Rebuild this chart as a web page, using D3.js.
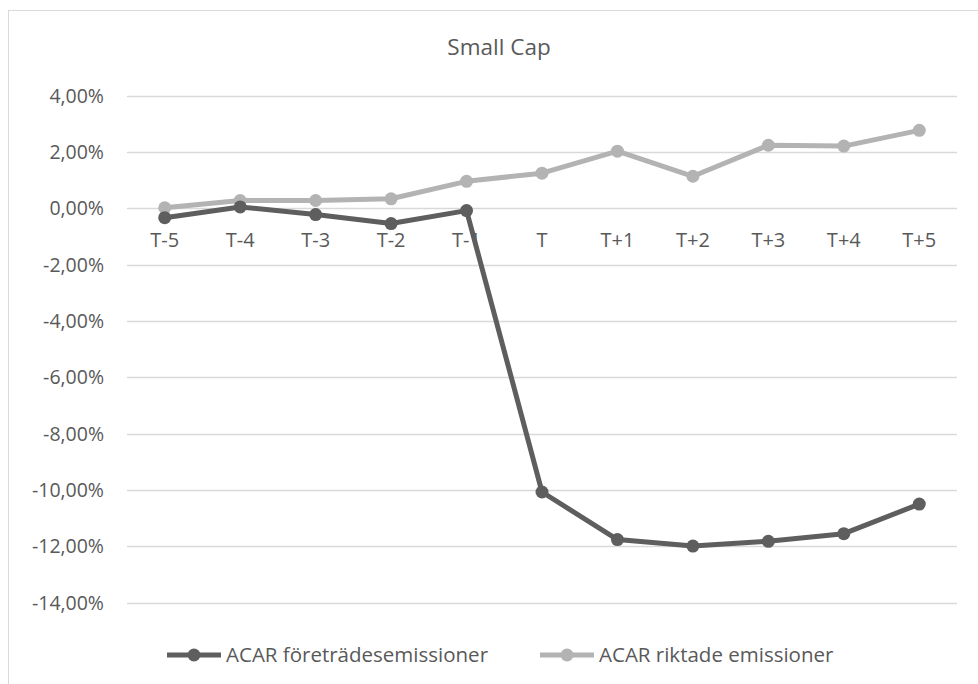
<!DOCTYPE html>
<html>
<head>
<meta charset="utf-8">
<script src="https://cdn.jsdelivr.net/npm/d3@7"></script>
<style>
  body { margin: 0; background: #fff; }
  svg text { font-family: "Open Sans", sans-serif; fill: #595959; }
</style>
</head>
<body>
<div id="chart"></div>
<script>
// Data (percent values)
let periods = ["T-5", "T-4", "T-3", "T-2", "T-1", "T", "T+1", "T+2", "T+3", "T+4", "T+5"];
let foretrade = [-0.33, 0.05, -0.22, -0.54, -0.08, -10.07, -11.76, -11.99, -11.82, -11.55, -10.50];
let riktade = [0.02, 0.28, 0.28, 0.34, 0.96, 1.25, 2.03, 1.14, 2.24, 2.21, 2.77];
let yTicks = [4, 2, 0, -2, -4, -6, -8, -10, -12, -14];

let seriesNames = ["ACAR företrädesemissioner", "ACAR riktade emissioner"];
let seriesColors = ["#5e5e5e", "#b3b3b3"];

let width = 978;
let height = 684;

let svg = d3.select("#chart")
    .append("svg")
    .attr("width", width)
    .attr("height", height);

// chart frame (runs off the right and bottom edge like the original)
svg.append("rect")
    .attr("x", 8.5)
    .attr("y", 10.5)
    .attr("width", 1000)
    .attr("height", 1000)
    .style("fill", "none")
    .style("stroke", "#d9d9d9");

let xScale = d3.scalePoint()
    .domain(periods)
    .range([127, 957])
    .padding(0.5);

let yScale = d3.scaleLinear()
    .domain([-14, 4])
    .range([602.7, 95.7]);

// gridlines
svg.selectAll(".grid")
    .data(yTicks)
    .enter()
    .append("line")
    .attr("x1", 127)
    .attr("x2", 957)
    .attr("y1", function (d) { return Math.round(yScale(d)) + 0.5; })
    .attr("y2", function (d) { return Math.round(yScale(d)) + 0.5; })
    .style("stroke", "#d9d9d9")
    .style("stroke-width", 1.5);

// y axis labels
let fmt = function (d) { return d3.format(".2f")(d).replace(".", ",").replace("−", "-") + "%"; };
svg.selectAll(".ylab")
    .data(yTicks)
    .enter()
    .append("text")
    .attr("x", 104)
    .attr("y", function (d) { return yScale(d); })
    .attr("dy", "0.35em")
    .attr("text-anchor", "end")
    .style("font-size", "19.5px")
    .text(fmt);

// category labels sit just below the zero line
svg.selectAll(".xlab")
    .data(periods)
    .enter()
    .append("text")
    .attr("x", function (d) { return xScale(d); })
    .attr("y", yScale(0) + 32)
    .attr("dy", "0.35em")
    .attr("text-anchor", "middle")
    .style("font-size", "20px")
    .text(function (d) { return d; });

// title
svg.append("text")
    .attr("x", 499)
    .attr("y", 47)
    .attr("dy", "0.35em")
    .attr("text-anchor", "middle")
    .style("font-size", "22.5px")
    .text("Small Cap");

let drawSeries = function (values, color) {
    let pts = periods.map(function (p, i) { return { p: p, v: values[i] }; });
    let line = d3.line()
        .x(function (d) { return xScale(d.p); })
        .y(function (d) { return yScale(d.v); });
    svg.append("path")
        .datum(pts)
        .attr("d", line)
        .style("fill", "none")
        .style("stroke", color)
        .style("stroke-width", 5)
        .style("stroke-linejoin", "round");
    svg.selectAll(null)
        .data(pts)
        .enter()
        .append("circle")
        .attr("cx", function (d) { return xScale(d.p); })
        .attr("cy", function (d) { return yScale(d.v); })
        .attr("r", 6.5)
        .style("fill", color);
};

drawSeries(riktade, seriesColors[1]);
drawSeries(foretrade, seriesColors[0]);

// legend
let legendX = [167, 540];
let legendY = 655;
seriesNames.forEach(function (name, i) {
    let g = svg.append("g").attr("transform", "translate(" + legendX[i] + "," + legendY + ")");
    g.append("line")
        .attr("x1", 0).attr("x2", 54)
        .style("stroke", seriesColors[i])
        .style("stroke-width", 5);
    g.append("circle")
        .attr("cx", 27)
        .attr("r", 6.5)
        .style("fill", seriesColors[i]);
    g.append("text")
        .attr("x", 59)
        .attr("dy", "0.35em")
        .style("font-size", "20.5px")
        .text(name);
});
</script>
</body>
</html>
